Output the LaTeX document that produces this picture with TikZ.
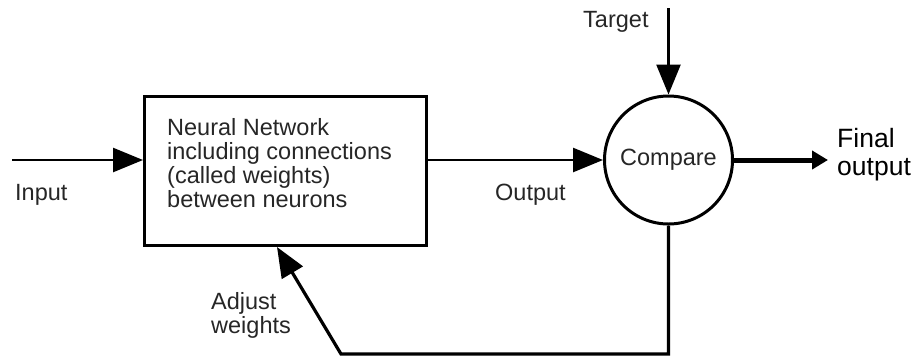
\documentclass[tikz,border=0pt]{standalone}
\usepackage{fontspec}
\setmainfont{Liberation Sans}
\usetikzlibrary{arrows.meta}
\begin{document}
\begin{tikzpicture}[x=1pt,y=-1pt,
  every node/.style={inner sep=0pt},
  lbl/.style={font=\fontsize{23.5}{24}\selectfont, text=black!85, align=left},
  bigl/.style={font=\fontsize{26.5}{28}\selectfont, text=black, align=left},
  nnbox/.style={draw, line width=3pt, minimum width=282pt, minimum height=149pt},
  cmpnode/.style={draw, circle, line width=3pt, minimum size=128pt,
                  font=\fontsize{23.5}{24}\selectfont, text=black!85},
  flow/.style={line width=2.6pt, -{Triangle[length=30pt,width=24pt]}},
  fb/.style={line width=3.2pt, -{Triangle[length=30pt,width=24pt]}},
  final/.style={line width=5pt, -{Triangle[length=16pt,width=18pt]}}]
\useasboundingbox (0,0) rectangle (918,357);

% main blocks
\node[nnbox] (nn) at (285.5,171) {};
\node[lbl, anchor=north west] (nntext) at (167,118) {Neural Network\\including connections\\(called weights)\\between neurons};
\node[cmpnode] (cmp) at (668.5,160) {Compare};

% free ends of the connectors
\coordinate (inp) at (12,160);
\coordinate (tgt) at (668.5,8);
\coordinate (fin) at (828,160);
\coordinate (fbdown) at (668.5,354);
\coordinate (fbleft) at (341,354);

% connectors
\draw[flow] (inp) -- (inp -| nn.west);
\draw[flow] (cmp.west -| nn.east) -- (cmp.west);
\draw[flow] (tgt) -- (cmp.north);
\draw[final] (cmp.east) -- (fin);
\draw[fb] (cmp.south) -- (fbdown) -- (fbleft) -- ([xshift=134pt]nn.south west);

% labels
\node[lbl, anchor=base west] (inlbl) at (15,200) {Input};
\node[lbl, anchor=base west] (outlbl) at (495,200) {Output};
\node[lbl, anchor=base west] (tgtlbl) at (583,27) {Target};
\node[lbl, anchor=north west] (adjlbl) at (211,292) {Adjust\\weights};
\node[bigl, anchor=north west] (finlbl) at (837,128) {Final\\output};
\end{tikzpicture}
\end{document}
